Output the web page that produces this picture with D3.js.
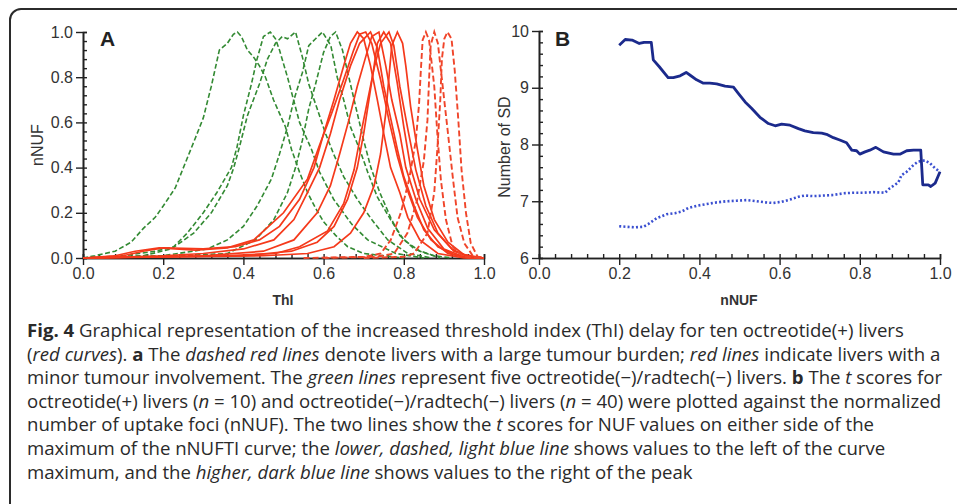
<!DOCTYPE html>
<html lang="en">
<head>
<meta charset="UTF-8">
<title>Fig. 4</title>
<script src="https://d3js.org/d3.v7.min.js"></script>
<style>
  body { margin: 0; background: #fff; }
  svg text { fill: #333; }
</style>
</head>
<body>
<svg id="chart"></svg>
<script>
// ---- panel A data: [ThI, nNUF]
const greenDashed = [
  [[0,0],[0.03,0.01],[0.08,0.03],[0.12,0.07],[0.15,0.13],[0.18,0.18],[0.2,0.23],[0.23,0.31],[0.255,0.42],[0.28,0.53],[0.3,0.62],[0.32,0.76],[0.34,0.92],[0.36,0.95],[0.375,0.99],[0.385,1.0],[0.395,0.98],[0.41,0.92],[0.425,0.89],[0.44,0.85],[0.455,0.8],[0.475,0.7],[0.49,0.64],[0.505,0.58],[0.52,0.48],[0.54,0.38],[0.56,0.29],[0.58,0.22],[0.6,0.16],[0.63,0.1],[0.66,0.05],[0.7,0.02],[0.75,0.01],[0.8,0]],
  [[0,0],[0.1,0.01],[0.18,0.03],[0.226,0.05],[0.26,0.11],[0.3,0.2],[0.334,0.29],[0.37,0.4],[0.384,0.49],[0.4,0.63],[0.42,0.77],[0.434,0.88],[0.45,0.98],[0.467,1.0],[0.48,0.97],[0.49,0.92],[0.51,0.8],[0.525,0.7],[0.54,0.6],[0.57,0.48],[0.59,0.38],[0.625,0.26],[0.67,0.15],[0.71,0.08],[0.78,0.02],[0.85,0]],
  [[0,0],[0.15,0.01],[0.22,0.04],[0.276,0.11],[0.32,0.2],[0.36,0.32],[0.376,0.4],[0.39,0.49],[0.41,0.63],[0.44,0.77],[0.46,0.88],[0.48,0.95],[0.497,0.98],[0.51,0.97],[0.53,1.0],[0.547,0.89],[0.563,0.77],[0.584,0.66],[0.605,0.55],[0.625,0.46],[0.65,0.36],[0.684,0.26],[0.72,0.17],[0.76,0.08],[0.81,0.02],[0.87,0]],
  [[0,0],[0.2,0.01],[0.31,0.04],[0.36,0.08],[0.4,0.14],[0.434,0.23],[0.47,0.35],[0.49,0.46],[0.51,0.58],[0.526,0.7],[0.547,0.82],[0.563,0.94],[0.58,0.97],[0.597,1.0],[0.618,0.94],[0.634,0.8],[0.65,0.7],[0.667,0.58],[0.69,0.48],[0.71,0.38],[0.734,0.27],[0.767,0.17],[0.8,0.08],[0.84,0.03],[0.89,0]],
  [[0,0],[0.25,0.01],[0.36,0.02],[0.43,0.08],[0.476,0.17],[0.51,0.29],[0.53,0.4],[0.547,0.52],[0.563,0.66],[0.58,0.77],[0.6,0.91],[0.617,0.98],[0.63,1.0],[0.647,0.92],[0.663,0.8],[0.68,0.67],[0.7,0.52],[0.718,0.4],[0.74,0.29],[0.767,0.18],[0.79,0.1],[0.826,0.04],[0.876,0.01],[0.92,0]]
];

const redSolid = [
  [[0,0],[0.1,0.01],[0.15,0.03],[0.2,0.045],[0.3,0.04],[0.38,0.05],[0.44,0.08],[0.49,0.14],[0.54,0.26],[0.576,0.4],[0.6,0.55],[0.626,0.7],[0.65,0.85],[0.667,0.95],[0.684,1.0],[0.7,0.97],[0.717,0.85],[0.734,0.7],[0.75,0.55],[0.767,0.4],[0.79,0.29],[0.81,0.18],[0.84,0.08],[0.885,0.02],[0.95,0],[1,0]],
  [[0,0],[0.2,0.01],[0.3,0.02],[0.4,0.04],[0.476,0.08],[0.526,0.17],[0.56,0.29],[0.59,0.4],[0.617,0.55],[0.64,0.7],[0.667,0.85],[0.69,0.95],[0.717,1.0],[0.734,0.93],[0.75,0.76],[0.767,0.62],[0.784,0.48],[0.8,0.36],[0.826,0.23],[0.85,0.125],[0.885,0.05],[0.925,0.015],[0.97,0],[1,0]],
  [[0,0],[0.3,0.01],[0.45,0.03],[0.526,0.08],[0.584,0.2],[0.617,0.32],[0.64,0.46],[0.663,0.61],[0.684,0.76],[0.705,0.89],[0.72,0.98],[0.738,1.0],[0.755,0.85],[0.77,0.7],[0.79,0.55],[0.805,0.4],[0.83,0.26],[0.86,0.13],[0.9,0.04],[0.95,0.005],[1,0]],
  [[0,0],[0.4,0.01],[0.52,0.03],[0.584,0.07],[0.626,0.14],[0.66,0.26],[0.684,0.4],[0.7,0.55],[0.713,0.7],[0.726,0.85],[0.734,0.95],[0.75,1.0],[0.767,0.95],[0.784,0.77],[0.8,0.58],[0.817,0.4],[0.84,0.26],[0.876,0.125],[0.92,0.04],[0.96,0.005],[1,0]],
  [[0,0],[0.45,0.01],[0.56,0.02],[0.626,0.05],[0.667,0.11],[0.7,0.2],[0.726,0.32],[0.742,0.46],[0.755,0.64],[0.763,0.8],[0.77,0.94],[0.784,1.0],[0.797,0.95],[0.805,0.85],[0.817,0.67],[0.834,0.48],[0.85,0.32],[0.876,0.17],[0.91,0.07],[0.95,0.015],[1,0]],
  [[0,0],[0.08,0.01],[0.13,0.03],[0.19,0.045],[0.28,0.035],[0.36,0.045],[0.426,0.08],[0.5,0.2],[0.56,0.35],[0.59,0.5],[0.62,0.64],[0.65,0.79],[0.675,0.92],[0.69,0.99],[0.705,1.0],[0.72,0.95],[0.742,0.79],[0.763,0.61],[0.784,0.45],[0.805,0.32],[0.834,0.18],[0.868,0.08],[0.91,0.02],[0.96,0],[1,0]],
  [[0,0],[0.35,0.01],[0.48,0.02],[0.54,0.05],[0.61,0.12],[0.65,0.24],[0.676,0.39],[0.693,0.55],[0.71,0.7],[0.726,0.84],[0.742,0.95],[0.763,1.0],[0.775,0.94],[0.79,0.76],[0.81,0.57],[0.83,0.39],[0.855,0.23],[0.885,0.11],[0.925,0.03],[0.97,0.005],[1,0]]
];

const redDashed = [
  [[0.55,0],[0.7,0.005],[0.7425,0.02],[0.7675,0.08],[0.7925,0.2],[0.813,0.345],[0.83,0.52],[0.838,0.68],[0.8425,0.83],[0.847,0.965],[0.855,1.0],[0.863,0.965],[0.876,0.76],[0.884,0.54],[0.8925,0.345],[0.905,0.17],[0.922,0.05],[0.947,0.006],[1,0]],
  [[0.6,0],[0.73,0.005],[0.776,0.02],[0.809,0.11],[0.834,0.26],[0.85,0.43],[0.859,0.61],[0.863,0.79],[0.867,0.94],[0.876,1.0],[0.885,0.95],[0.897,0.76],[0.909,0.57],[0.922,0.36],[0.934,0.18],[0.951,0.065],[0.972,0.01],[1,0]],
  [[0.7,0],[0.8,0.005],[0.826,0.02],[0.859,0.11],[0.876,0.29],[0.884,0.49],[0.891,0.7],[0.895,0.88],[0.901,0.97],[0.909,1.0],[0.919,0.97],[0.927,0.83],[0.936,0.61],[0.944,0.39],[0.955,0.2],[0.967,0.065],[0.984,0.006],[1,0]]
];

// ---- panel B data: [nNUF, number of SD]
const rightOfPeak = [[0.2,9.75],[0.215,9.85],[0.232,9.84],[0.25,9.78],[0.262,9.8],[0.28,9.8],[0.285,9.49],[0.3,9.37],[0.322,9.18],[0.335,9.18],[0.352,9.21],[0.367,9.27],[0.377,9.22],[0.393,9.14],[0.41,9.08],[0.426,9.08],[0.443,9.07],[0.464,9.03],[0.485,9.01],[0.497,8.9],[0.514,8.75],[0.53,8.64],[0.551,8.48],[0.572,8.37],[0.589,8.33],[0.605,8.36],[0.626,8.34],[0.647,8.28],[0.663,8.24],[0.684,8.21],[0.705,8.2],[0.717,8.18],[0.734,8.12],[0.75,8.08],[0.767,8.03],[0.78,7.9],[0.792,7.89],[0.8,7.83],[0.813,7.87],[0.825,7.9],[0.84,7.95],[0.859,7.87],[0.884,7.83],[0.9,7.83],[0.917,7.89],[0.934,7.9],[0.952,7.9],[0.957,7.29],[0.971,7.29],[0.977,7.26],[0.988,7.32],[1.0,7.52]];
const leftOfPeak = [[0.2,6.56],[0.219,6.55],[0.24,6.54],[0.26,6.55],[0.273,6.6],[0.293,6.7],[0.318,6.77],[0.339,6.79],[0.356,6.82],[0.372,6.88],[0.393,6.92],[0.418,6.95],[0.443,6.98],[0.468,7.0],[0.493,7.01],[0.518,7.02],[0.543,7.0],[0.564,6.98],[0.584,6.97],[0.605,6.99],[0.626,7.03],[0.647,7.08],[0.663,7.1],[0.684,7.09],[0.709,7.1],[0.734,7.11],[0.759,7.14],[0.784,7.15],[0.809,7.15],[0.834,7.16],[0.863,7.15],[0.875,7.23],[0.896,7.33],[0.904,7.46],[0.917,7.52],[0.934,7.64],[0.946,7.7],[0.962,7.72],[0.975,7.67],[0.988,7.58],[1.0,7.52]];

const xTicksA = [0, 0.2, 0.4, 0.6, 0.8, 1.0];
const yTicksA = [0, 0.2, 0.4, 0.6, 0.8, 1.0];
const xTicksB = [0, 0.2, 0.4, 0.6, 0.8, 1.0];
const yTicksB = [6, 7, 8, 9, 10];

const caption = [
  [["Fig. 4", "b"], [" Graphical representation of the increased threshold index (ThI) delay for ten octreotide(+) livers", ""]],
  [["(", ""], ["red curves", "i"], ["). ", ""], ["a", "b"], [" The ", ""], ["dashed red lines", "i"], [" denote livers with a large tumour burden; ", ""], ["red lines", "i"], [" indicate livers with a", ""]],
  [["minor tumour involvement. The ", ""], ["green lines", "i"], [" represent five octreotide(\u2212)/radtech(\u2212) livers. ", ""], ["b", "b"], [" The ", ""], ["t", "i"], [" scores for", ""]],
  [["octreotide(+) livers (", ""], ["n", "i"], [" = 10) and octreotide(\u2212)/radtech(\u2212) livers (", ""], ["n", "i"], [" = 40) were plotted against the normalized", ""]],
  [["number of uptake foci (nNUF). The two lines show the ", ""], ["t", "i"], [" scores for NUF values on either side of the", ""]],
  [["maximum of the nNUFTI curve; the ", ""], ["lower, dashed, light blue line", "i"], [" shows values to the left of the curve", ""]],
  [["maximum, and the ", ""], ["higher, dark blue line", "i"], [" shows values to the right of the peak", ""]]
];

const W = 957, H = 504;
const svg = d3.select("#chart").attr("width", W).attr("height", H);

svg.append("rect")
  .attr("x", 10).attr("y", 9).attr("width", 1000).attr("height", 600)
  .attr("rx", 11)
  .attr("fill", "#fff").attr("stroke", "#2b2b2b").attr("stroke-width", 2);

function minorRange(a, b, step) {
  const out = [];
  for (let v = a; v <= b + 1e-9; v += step) out.push(+v.toFixed(4));
  return out;
}

function drawAxes(g, x, y, xt, yt, xMinor, yMinor, yFmt) {
  const ax = g.append("g").attr("class", "axes");
  // minor ticks, inward
  ax.append("g").attr("transform", `translate(0,${y.range()[0]})`)
    .call(d3.axisBottom(x).tickValues(xMinor).tickSize(-4).tickFormat(""));
  ax.append("g").attr("transform", `translate(${x.range()[0]},0)`)
    .call(d3.axisLeft(y).tickValues(yMinor).tickSize(-4).tickFormat(""));
  // major ticks
  ax.append("g").attr("class", "lab").attr("transform", `translate(0,${y.range()[0]})`)
    .call(d3.axisBottom(x).tickValues(xt).tickSize(7).tickSizeOuter(0).tickPadding(3).tickFormat(d3.format(".1f")));
  ax.append("g").attr("class", "lab").attr("transform", `translate(${x.range()[0]},0)`)
    .call(d3.axisLeft(y).tickValues(yt).tickSize(7).tickSizeOuter(0).tickPadding(3).tickFormat(yFmt));
  ax.selectAll("path.domain").attr("stroke", "#222").attr("stroke-width", 1.6);
  ax.selectAll(".tick line").attr("stroke", "#222").attr("stroke-width", 1.4);
  ax.selectAll(".lab").attr("font-size", 16);
  ax.selectAll(".lab text").attr("font-family", "Liberation Sans, Arial, sans-serif")
    .attr("font-size", 16).style("fill", "#333");
  return ax;
}

// ---- panel A
const xA = d3.scaleLinear().domain([0, 1]).range([83, 484]);
const yA = d3.scaleLinear().domain([0, 1]).range([258, 32]);
const gA = svg.append("g");
drawAxes(gA, xA, yA, xTicksA, yTicksA, minorRange(0, 1, 0.04), minorRange(0, 1, 0.04), d3.format(".1f"));

const lineA = d3.line().x(d => xA(d[0])).y(d => yA(d[1]));
gA.append("g").selectAll("path").data(greenDashed).join("path")
  .attr("d", lineA).attr("fill", "none")
  .attr("stroke", "#338a33").attr("stroke-width", 1.6)
  .attr("stroke-dasharray", "5,2.5");
gA.append("g").selectAll("path").data(redSolid).join("path")
  .attr("d", lineA).attr("fill", "none")
  .attr("stroke", "#f5391b").attr("stroke-width", 1.7);
gA.append("g").selectAll("path").data(redDashed).join("path")
  .attr("d", lineA).attr("fill", "none")
  .attr("stroke", "#f0452a").attr("stroke-width", 1.9)
  .attr("stroke-dasharray", "6,3");

gA.append("text").attr("x", 100).attr("y", 46)
  .attr("font-family", "Liberation Sans, Arial, sans-serif")
  .attr("font-weight", "bold").attr("font-size", 21).style("fill", "#222").text("A");
gA.append("text").attr("x", 283).attr("y", 305).attr("text-anchor", "middle")
  .attr("font-family", "Liberation Sans, Arial, sans-serif")
  .attr("font-weight", "bold").attr("font-size", 14).text("ThI");
gA.append("text").attr("transform", "translate(43,145) rotate(-90)").attr("text-anchor", "middle")
  .attr("font-family", "Liberation Sans, Arial, sans-serif")
  .attr("font-size", 16).text("nNUF");

// ---- panel B
const xB = d3.scaleLinear().domain([0, 1]).range([539, 940]);
const yB = d3.scaleLinear().domain([6, 10]).range([258, 31]);
const gB = svg.append("g");
drawAxes(gB, xB, yB, xTicksB, yTicksB, minorRange(0, 1, 0.04), minorRange(6, 10, 0.2), d3.format("d"));

const lineB = d3.line().x(d => xB(d[0])).y(d => yB(d[1]));
gB.append("path").datum(leftOfPeak).attr("d", lineB).attr("fill", "none")
  .attr("stroke", "#3a4fd0").attr("stroke-width", 2.6)
  .attr("stroke-dasharray", "2,2.2");
gB.append("path").datum(rightOfPeak).attr("d", lineB).attr("fill", "none")
  .attr("stroke", "#1b2a8c").attr("stroke-width", 2.8).attr("stroke-linejoin", "round");

gB.append("text").attr("x", 555).attr("y", 46)
  .attr("font-family", "Liberation Sans, Arial, sans-serif")
  .attr("font-weight", "bold").attr("font-size", 21).style("fill", "#222").text("B");
gB.append("text").attr("x", 739).attr("y", 305).attr("text-anchor", "middle")
  .attr("font-family", "Liberation Sans, Arial, sans-serif")
  .attr("font-weight", "bold").attr("font-size", 14).text("nNUF");
gB.append("text").attr("transform", "translate(510,147) rotate(-90)").attr("text-anchor", "middle")
  .attr("font-family", "Liberation Sans, Arial, sans-serif")
  .attr("font-size", 16).text("Number of SD");

// ---- caption
const capX = 27, capTop = 337, capStep = 23.6, capRight = 942;
const cap = svg.append("g").attr("font-family", "Open Sans, Noto Sans, sans-serif").attr("font-size", 17.5);
const lines = cap.selectAll("text").data(caption).join("text")
  .attr("x", 0).attr("y", (d, i) => capTop + i * capStep)
  .style("fill", "#2a2a2a");
lines.selectAll("tspan").data(d => d).join("tspan")
  .attr("font-weight", d => d[1] === "b" ? "bold" : null)
  .attr("font-style", d => d[1] === "i" ? "italic" : null)
  .text(d => d[0]);
const w4 = lines.nodes()[3].getComputedTextLength();
const sx = (capRight - capX) / w4;
cap.attr("transform", `translate(${capX},0) scale(${sx},1)`);
</script>
</body>
</html>
